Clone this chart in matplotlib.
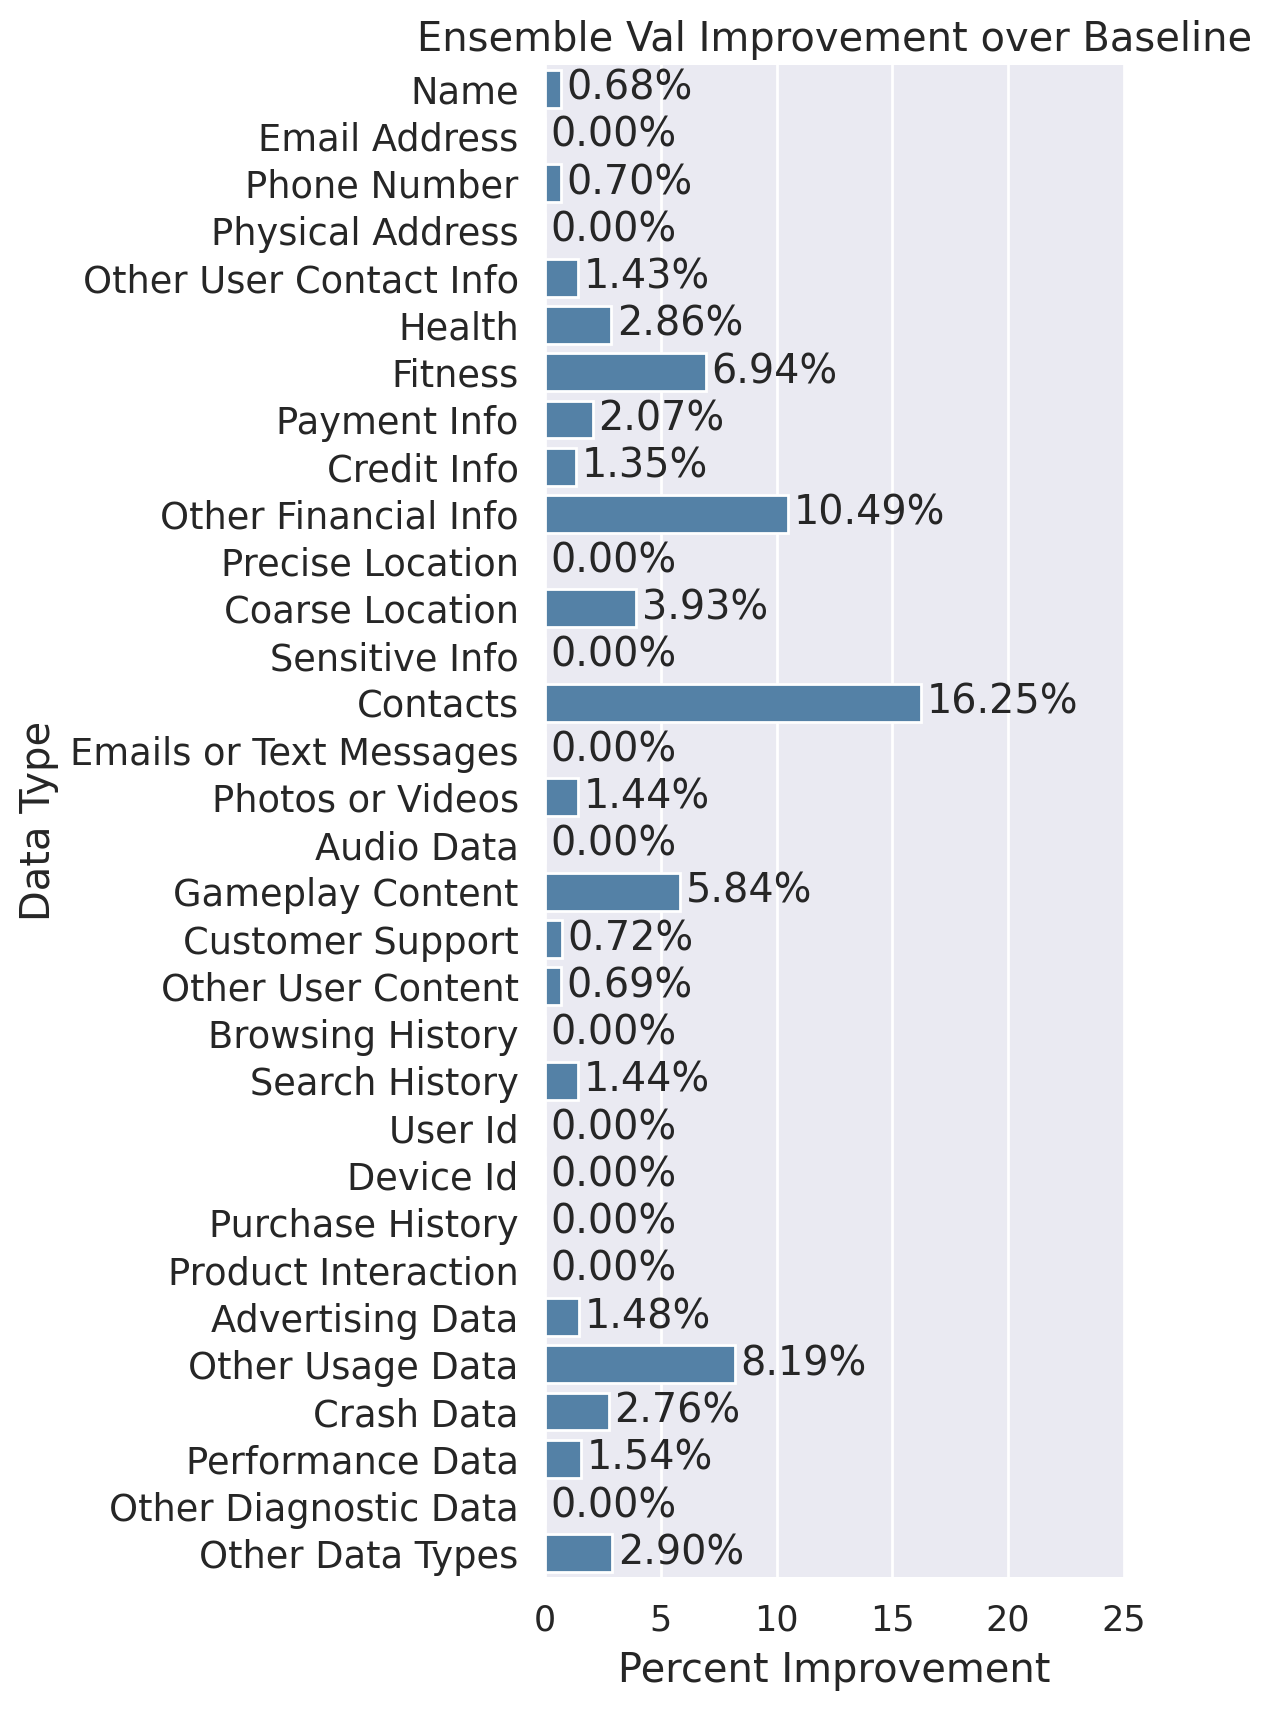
import numpy as np
import matplotlib
matplotlib.use("Agg")
import matplotlib.pyplot as plt

# values
data_types = [
	"Name", "Email Address", "Phone Number", "Physical Address",
	"Other User Contact Info", "Health", "Fitness", "Payment Info",
	"Credit Info", "Other Financial Info", "Precise Location",
	"Coarse Location", "Sensitive Info", "Contacts",
	"Emails or Text Messages", "Photos or Videos", "Audio Data",
	"Gameplay Content", "Customer Support", "Other User Content",
	"Browsing History", "Search History", "User Id", "Device Id",
	"Purchase History", "Product Interaction", "Advertising Data",
	"Other Usage Data", "Crash Data", "Performance Data",
	"Other Diagnostic Data", "Other Data Types",
]
improvement = [
	0.68, 0.00, 0.70, 0.00,
	1.43, 2.86, 6.94, 2.07,
	1.35, 10.49, 0.00,
	3.93, 0.00, 16.25,
	0.00, 1.44, 0.00,
	5.84, 0.72, 0.69,
	0.00, 1.44, 0.00, 0.00,
	0.00, 0.00, 1.48,
	8.19, 2.76, 1.54,
	0.00, 2.90,
]
x_ticks = [0, 5, 10, 15, 20, 25]

text_color = "#262626"
plt.rcParams.update({
	"font.family": ["DejaVu Sans"],
	"text.color": text_color,
	"axes.labelcolor": text_color,
	"xtick.color": text_color,
	"ytick.color": text_color,
})

fig = plt.figure(figsize=(6.36, 8.56), dpi=200)
ax = fig.add_axes([0.4285, 0.0789, 0.4551, 0.8831])
ax.set_facecolor("#EAEAF2")
for s in ax.spines.values():
	s.set_visible(False)

y = np.arange(len(data_types))
bars = ax.barh(y, improvement, height=0.8, color="#5481a6",
	edgecolor="white", linewidth=1, zorder=2)

ax.bar_label(bars, labels=["{:.2f}%".format(v) for v in improvement],
	padding=2, fontsize=14.3, color=text_color)

ax.set_yticks(y)
ax.set_yticklabels(data_types)
ax.set_ylim(len(data_types) - 0.5, -0.5)
ax.set_xlim(0, 25)
ax.set_xticks(x_ticks)

ax.xaxis.grid(True, color="white", linewidth=1, zorder=0)
ax.yaxis.grid(False)
ax.set_axisbelow(True)
ax.tick_params(axis="both", length=0, pad=9.5)
ax.tick_params(axis="y", labelsize=13.25)
ax.tick_params(axis="x", labelsize=12.6)

ax.set_xlabel("Percent Improvement", fontsize=14.4, labelpad=5)
ax.set_ylabel("Data Type", fontsize=14.4)
ax.set_title("Ensemble Val Improvement over Baseline", fontsize=14.4, pad=5)

fig.savefig("out.png", dpi=200)
